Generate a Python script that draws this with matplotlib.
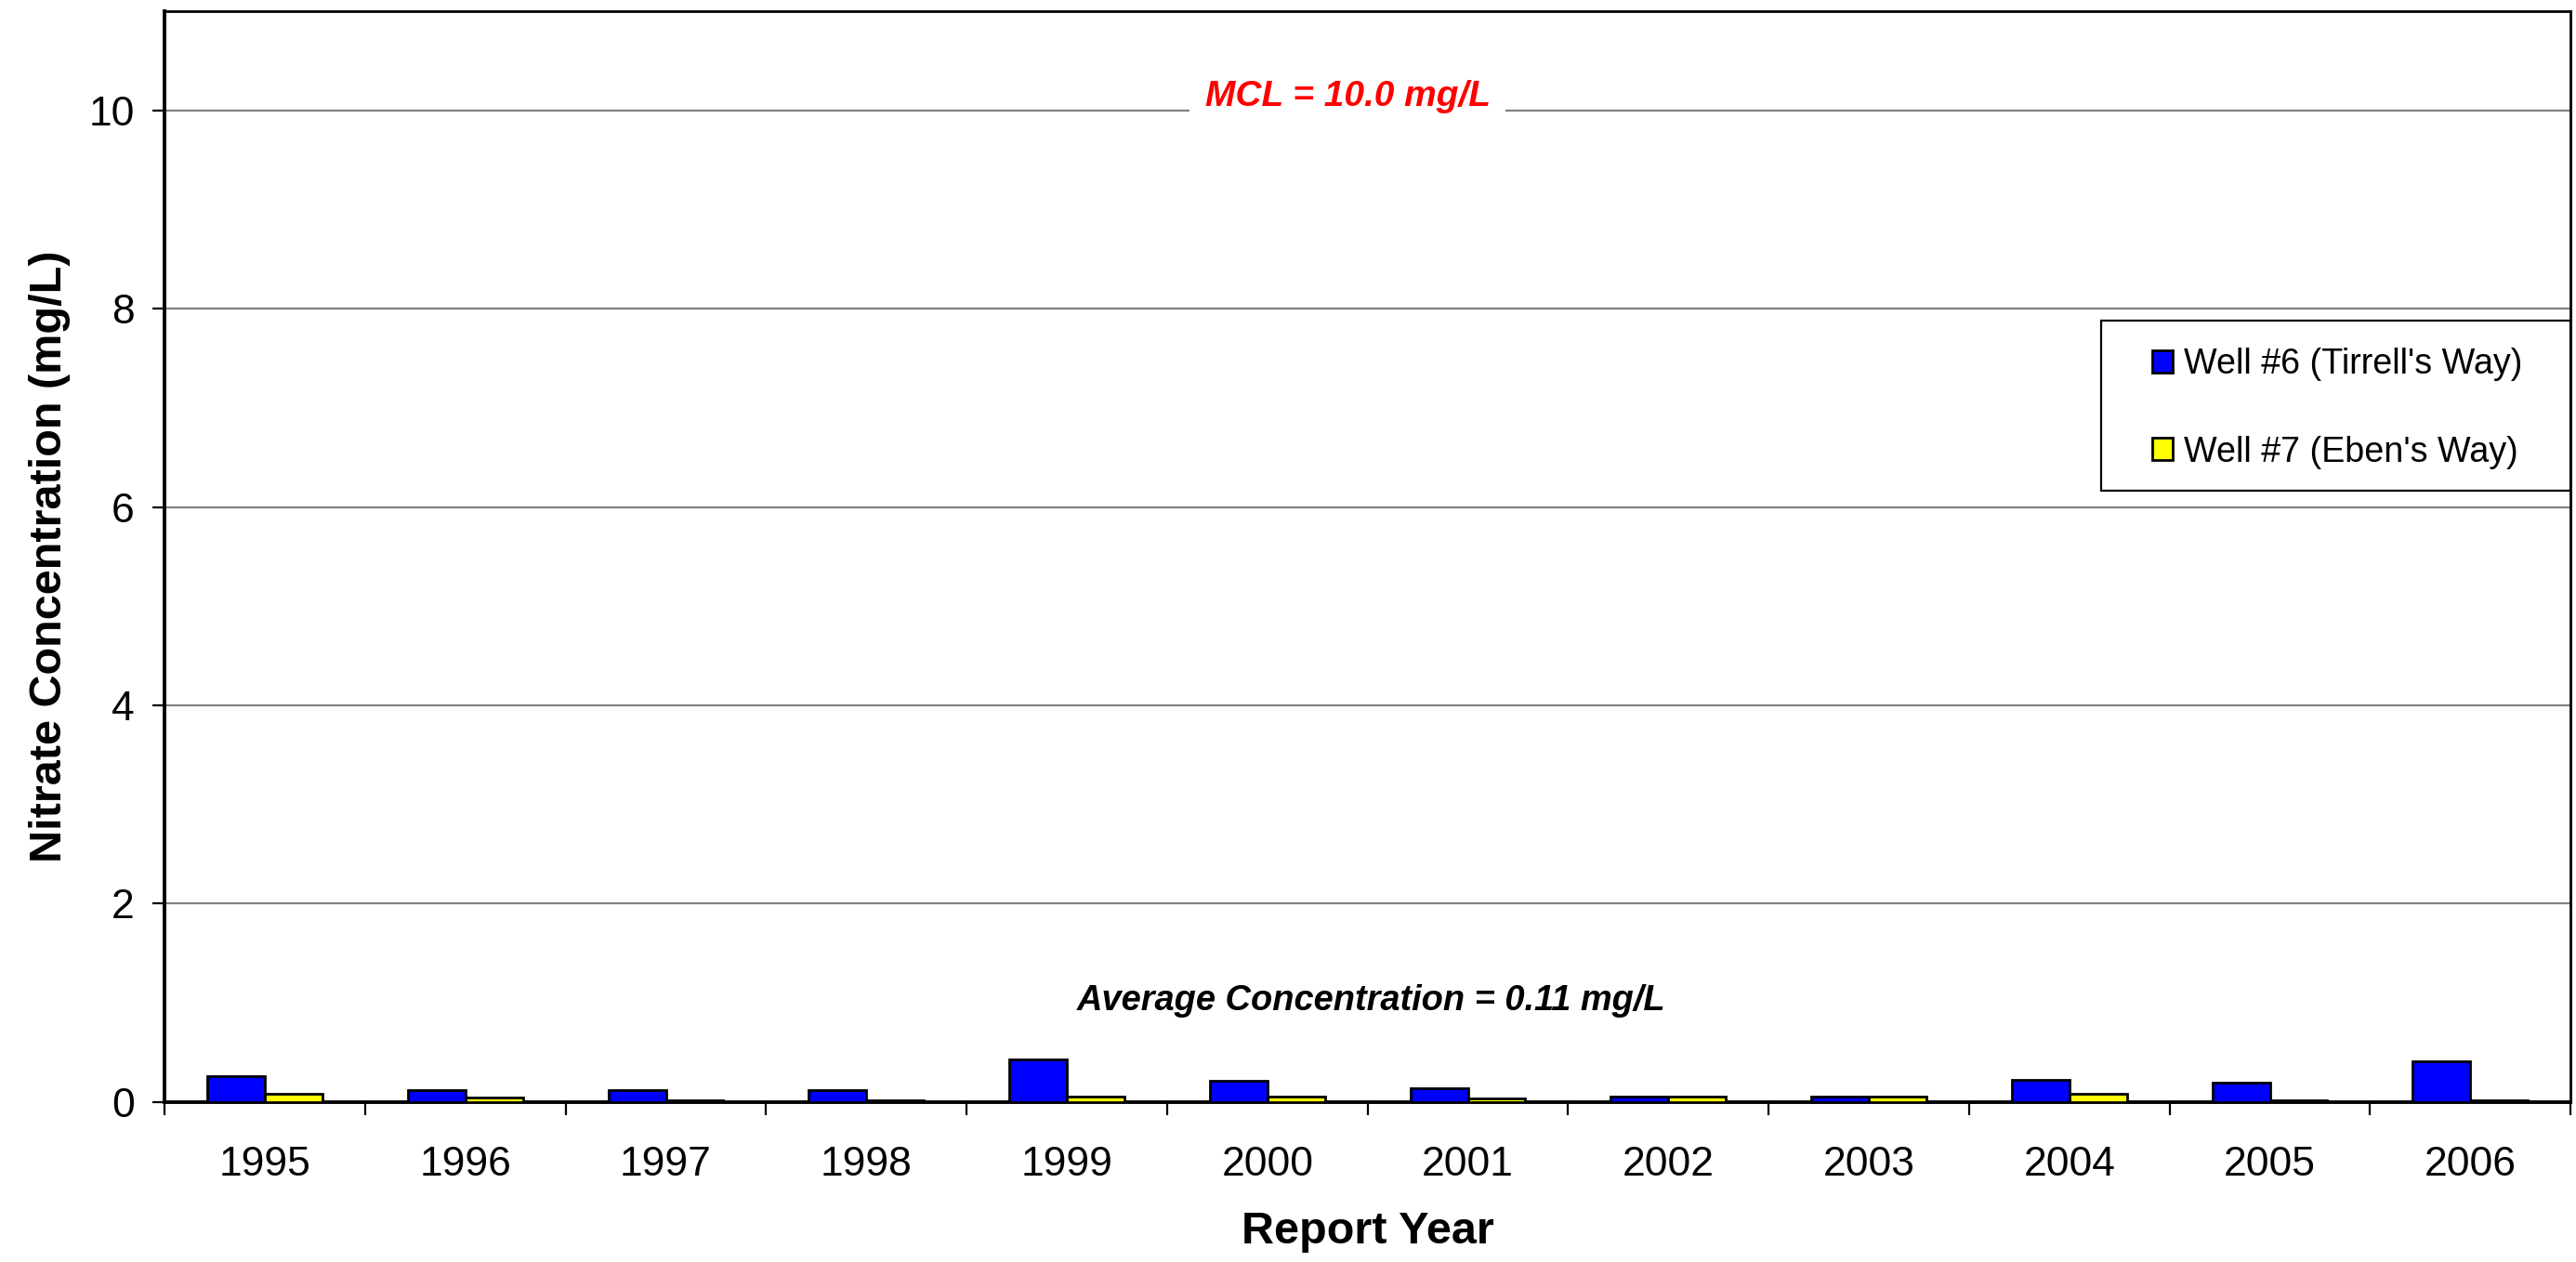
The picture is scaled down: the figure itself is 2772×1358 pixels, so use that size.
import numpy as np
import matplotlib
matplotlib.use("Agg")
from matplotlib import pyplot as plt
from matplotlib.patches import Rectangle

# values
years = ['1995', '1996', '1997', '1998', '1999', '2000',
         '2001', '2002', '2003', '2004', '2005', '2006']
well6 = [0.26, 0.12, 0.12, 0.12, 0.43, 0.21, 0.14, 0.05, 0.05, 0.22, 0.19, 0.41]
well7 = [0.08, 0.04, 0.01, 0.01, 0.05, 0.05, 0.03, 0.05, 0.05, 0.08, 0.01, 0.01]
series_names = ["Well #6 (Tirrell's Way)", "Well #7 (Eben's Way)"]
mcl = 10.0
average = 0.11

plt.rcParams['font.family'] = ['Liberation Sans', 'DejaVu Sans']

fig = plt.figure(figsize=(13.86, 6.79), dpi=200)
ax = fig.add_axes([0.0639, 0.127, 0.934, 0.864])

ind = np.arange(len(years))
width = 0.287   # excel gap width 150%

ax.yaxis.grid(True, color='#808080', linewidth=0.8)
ax.set_axisbelow(True)

ax.bar(ind - width / 2, well6, width, color='#0000FF', edgecolor='black',
       linewidth=1.0, label=series_names[0], zorder=3)
ax.bar(ind + width / 2, well7, width, color='#FFFF00', edgecolor='black',
       linewidth=1.0, label=series_names[1], zorder=3)

ax.set_xlim(-0.5, len(years) - 0.5)
ax.set_ylim(0, 11)
ax.set_yticks(np.arange(0, 11, 2))
ax.set_xticks(ind)
ax.set_xticklabels(years)
ax.set_xticks(np.arange(-0.5, len(years), 1), minor=True)
ax.tick_params(axis='x', which='major', length=0, pad=17, labelsize=16)
ax.tick_params(axis='x', which='minor', length=5, width=0.8, direction='out')
ax.tick_params(axis='y', length=4.7, width=0.8, pad=7, labelsize=16)

for side in ['left', 'bottom']:
    ax.spines[side].set_linewidth(1.4)
for side in ['top', 'right']:
    ax.spines[side].set_linewidth(1.0)

ax.set_ylabel('Nitrate Concentration (mg/L)', fontsize=17.5, fontweight='bold')
ax.set_xlabel('Report Year', fontsize=17.5, fontweight='bold')
ax.yaxis.set_label_coords(-0.039, 0.5)
ax.xaxis.set_label_coords(0.5, -0.1)

# MCL label sits on the 10 mg/L gridline
ax.text(5.4, mcl + 0.05, 'MCL = 10.0 mg/L', color='red', fontsize=14,
        fontweight='bold', fontstyle='italic', ha='center', va='baseline',
        bbox=dict(facecolor='white', edgecolor='none', pad=6), zorder=4)
ax.text(5.52, 1.02, 'Average Concentration = %.2f mg/L' % average, color='black',
        fontsize=13.7, fontweight='bold', fontstyle='italic', ha='center', va='center')

# legend box drawn separately to get the tall spacing
ax.add_patch(Rectangle((0.805, 0.56), 0.195, 0.156, transform=ax.transAxes,
                       facecolor='white', edgecolor='black', linewidth=0.8, zorder=5))
leg = ax.legend(loc='center left', bbox_to_anchor=(0.826, 0.636), frameon=False,
                fontsize=13.6, handlelength=0.6, handleheight=0.6,
                handletextpad=0.3, labelspacing=1.55, borderpad=0, borderaxespad=0)
leg.set_zorder(6)

fig.savefig('out.png', dpi=200)
